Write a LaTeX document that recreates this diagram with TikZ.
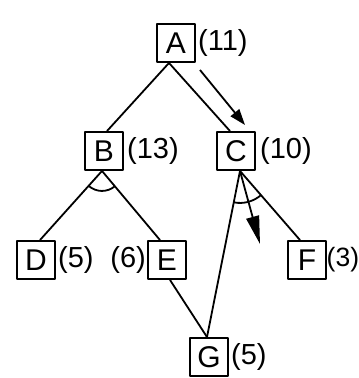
\documentclass[tikz,border=0pt]{standalone}
\usepackage{fontspec}
\setmainfont{Liberation Sans}
\usetikzlibrary{arrows.meta,calc}
\begin{document}
\begin{tikzpicture}[x=1pt,y=1pt,
  sq/.style={draw,line width=1.9pt,minimum size=38pt,inner sep=0pt,font=\fontsize{30}{30}\selectfont},
  lab/.style={inner sep=0pt,font=\fontsize{29}{29}\selectfont},
  edge/.style={line width=1.8pt},
  every path/.style={line join=round}]
\useasboundingbox (0,0) rectangle (359,378);
\node[sq] (A) at (176,335) {A};
\node[sq] (B) at (104,227) {B};
\node[sq] (C) at (236,227) {C};
\node[sq] (D) at (36,118) {D};
\node[sq] (E) at (167,118) {E};
\node[sq] (F) at (307,118) {F};
\node[sq] (G) at (209,21) {G};
\node[lab,anchor=west] (lA) at (198,335) {(11)};
\node[lab,anchor=west] (lB) at (127,227) {(13)};
\node[lab,anchor=west] (lC) at (260,227) {(10)};
\node[lab,anchor=west] (lD) at (58,118) {(5)};
\node[lab,anchor=east] (lE) at (146,118) {(6)};
\node[lab,anchor=west,font=\fontsize{26.5}{26.5}\selectfont] (lF) at (326.5,118) {(3)};
\node[lab,anchor=west] (lG) at (231,21) {(5)};
% edges
\coordinate (As) at ([xshift=-7pt]A.south);
\coordinate (Bs) at ([xshift=-2pt]B.south);
\coordinate (Cs) at ([xshift=4pt]C.south);
\draw[edge] (As) -- ([xshift=3pt]B.north);
\draw[edge] (As) -- ([xshift=-6pt]C.north);
\draw[edge] (Bs) -- ([xshift=4pt]D.north);
\draw[edge] (Bs) -- ([xshift=-7pt]E.north);
\draw[edge] ([xshift=3pt]E.south) -- ([xshift=-2pt]G.north);
\draw[edge] (Cs) -- ([xshift=-2pt]G.north);
\draw[edge] (Cs) -- ([xshift=-7pt]F.north);
% AND arcs
\draw[edge] (Bs) ++(228.5:20) arc[start angle=228.5,end angle=309.6,radius=20];
\draw[edge] (Cs) ++(258.8:32) arc[start angle=258.8,end angle=311.8,radius=32];
% direction arrows
\coordinate (r1) at (200,308);
\coordinate (r2) at (245,253);
\draw[edge,-{Triangle[length=16pt,width=11pt]}] (r1) -- (r2);
\coordinate (c2) at (260,134);
\draw[edge,-{Triangle[length=28pt,width=13pt]}] (Cs) -- (c2);
\end{tikzpicture}
\end{document}
